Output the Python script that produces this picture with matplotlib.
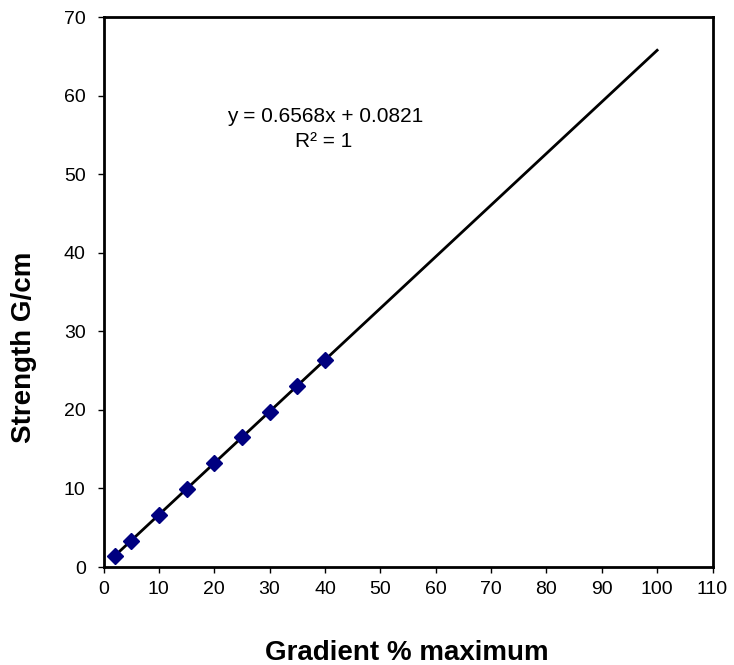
import numpy as np
import matplotlib
matplotlib.use("Agg")
import matplotlib.pyplot as plt

plt.rcParams['font.family'] = ['Liberation Sans', 'DejaVu Sans']

# Measured points
gradient_pct = [2, 5, 10, 15, 20, 25, 30, 35, 40]
strength = [1.40, 3.37, 6.65, 9.93, 13.22, 16.50, 19.79, 23.07, 26.35]

# Linear trendline coefficients
slope = 0.6568
intercept = 0.0821
trend_x = [2, 100]

x_ticks = list(range(0, 111, 10))
y_ticks = list(range(0, 71, 10))

W, H = 734, 665
fig = plt.figure(figsize=(W / 100, H / 100), dpi=100)
ax = fig.add_axes([103.5 / W, 1 - 567 / H, 609 / W, 550 / H])

tx = np.array(trend_x, dtype=float)
ax.plot(tx, slope * tx + intercept, color='black', lw=2, zorder=2)
ax.plot(gradient_pct, strength, linestyle='none', marker='D', markersize=8.5,
        markerfacecolor='#000080', markeredgecolor='#000080', zorder=3)

ax.set_xlim(0, 110)
ax.set_ylim(0, 70)
ax.set_xticks(x_ticks)
ax.set_yticks(y_ticks)
ax.tick_params(direction='out', length=4.3, width=1, labelsize=14)
ax.tick_params(axis='x', pad=5.5)
ax.tick_params(axis='y', pad=8.5)

for s in ax.spines.values():
    s.set_linewidth(2)
    s.set_color('black')

fig.text(407 / W, 1 - 660 / H, 'Gradient % maximum', fontsize=20,
         fontweight='bold', ha='center', va='baseline')
fig.text(24 / W, 1 - 347 / H, 'Strength G/cm', fontsize=20,
         fontweight='bold', ha='center', va='center', rotation=90)

eq_x = ax.transAxes.inverted().transform(fig.transFigure.transform((325 / W, 0)))[0]
ax.text(325 / W, 1 - 121.7 / H, f'y = {slope}x + {intercept}',
        transform=fig.transFigure, ha='center', va='baseline', fontsize=15)
ax.text(324 / W, 1 - 146.7 / H, 'R² = 1',
        transform=fig.transFigure, ha='center', va='baseline', fontsize=15)

fig.savefig('out.png', dpi=100)
